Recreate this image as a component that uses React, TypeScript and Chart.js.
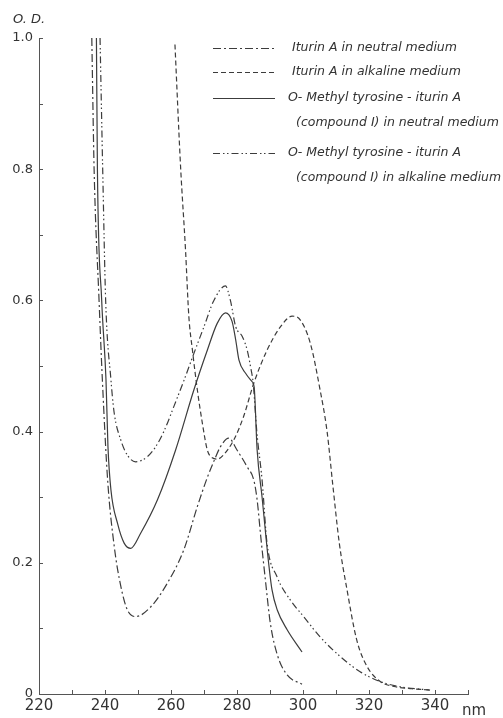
import React, { useEffect, useRef } from "react";
import { Chart, registerables } from "chart.js";
Chart.register(...registerables);

// Iturin A in neutral medium (dash-dot)
const nmItNeutral = [236.0, 236.7, 238.2, 239.2, 240.8, 242.8, 244.8, 246.8, 249.3, 253.9, 258.9, 263.9, 268.0, 271.0, 273.0, 275.0, 277.5, 280.0, 283.1, 285.1, 286.1, 287.2, 288.6, 290.1, 292.2, 295.2, 299.7];
const odItNeutral = [1.0, 0.8, 0.6, 0.479, 0.326, 0.225, 0.164, 0.128, 0.118, 0.133, 0.169, 0.22, 0.286, 0.33, 0.355, 0.377, 0.39, 0.372, 0.346, 0.326, 0.296, 0.24, 0.174, 0.108, 0.06, 0.029, 0.015];

// Iturin A in alkaline medium (dashed)
const nmItAlk = [261.2, 262.9, 264.4, 265.4, 266.5, 268.0, 269.5, 271.0, 272.5, 274.0, 276.0, 279.0, 282.0, 285.1, 289.1, 293.2, 296.7, 299.2, 302.2, 305.2, 307.3, 309.0, 311.0, 313.3, 316.3, 319.4, 323.4, 328.0, 333.0, 338.5];
const odItAlk = [0.99, 0.804, 0.677, 0.576, 0.524, 0.463, 0.413, 0.372, 0.36, 0.358, 0.365, 0.387, 0.423, 0.474, 0.524, 0.56, 0.576, 0.57, 0.535, 0.463, 0.4, 0.32, 0.23, 0.16, 0.082, 0.042, 0.019, 0.011, 0.008, 0.006];

// O-Methyl tyrosine-iturin A (compound I) in neutral medium (solid)
const nmCmpNeutral = [237.4, 237.7, 239.0, 240.3, 240.9, 241.8, 243.8, 245.8, 247.8, 250.8, 255.9, 261.4, 266.9, 271.0, 274.0, 276.5, 278.5, 279.6, 280.6, 282.6, 284.6, 285.2, 286.1, 287.6, 289.6, 290.6, 292.2, 295.2, 299.7];
const odCmpNeutral = [1.0, 0.8, 0.6, 0.479, 0.377, 0.311, 0.26, 0.23, 0.222, 0.245, 0.296, 0.372, 0.463, 0.524, 0.565, 0.581, 0.568, 0.54, 0.509, 0.489, 0.476, 0.468, 0.372, 0.3, 0.199, 0.159, 0.128, 0.098, 0.064];

// O-Methyl tyrosine-iturin A (compound I) in alkaline medium (dash-dot-dot)
const nmCmpAlk = [238.5, 239.3, 240.2, 241.8, 242.8, 244.8, 246.8, 249.3, 252.9, 255.5, 258.0, 261.0, 264.0, 267.0, 270.0, 273.0, 276.5, 278.0, 279.6, 281.6, 283.1, 284.1, 284.9, 286.0, 287.6, 289.1, 292.1, 296.2, 300.2, 305.2, 311.3, 317.3, 323.4, 329.4, 338.5];
const odCmpAlk = [1.0, 0.8, 0.6, 0.479, 0.428, 0.387, 0.364, 0.354, 0.362, 0.378, 0.402, 0.44, 0.479, 0.52, 0.56, 0.6, 0.622, 0.6, 0.56, 0.545, 0.524, 0.499, 0.474, 0.4, 0.326, 0.23, 0.179, 0.143, 0.118, 0.087, 0.057, 0.034, 0.019, 0.011, 0.006];

const legendLabels = [
  ["Iturin A in neutral medium"],
  ["Iturin A in alkaline medium"],
  ["O- Methyl tyrosine - iturin A", "(compound I) in neutral medium"],
  ["O- Methyl tyrosine - iturin A", "(compound I) in alkaline medium"],
];
const yAxisTitle = "O. D.";
const xUnit = "nm";

const DASH_DOT = [8, 3, 2, 3];
const DASHED = [5, 3];
const SOLID: number[] = [];
const DASH_DOT_DOT = [7, 3, 1.5, 2.5, 1.5, 3];
const LINE_COLOR = "#3c3c3c";

const toPts = (xs: number[], ys: number[]) => xs.map((x, i) => ({ x, y: ys[i] }));

export default function App() {
  const ref = useRef<HTMLCanvasElement>(null);
  useEffect(() => {
    const dashes = [DASH_DOT, DASHED, SOLID, DASH_DOT_DOT];
    const decor = {
      id: "decor",
      afterDraw(chart: any) {
        const { ctx, chartArea, scales } = chart;
        const x = scales.x;
        const y = scales.y;
        ctx.save();
        // inward ticks
        ctx.strokeStyle = "#555";
        ctx.lineWidth = 1;
        ctx.setLineDash([]);
        ctx.beginPath();
        x.ticks.forEach((t: any) => {
          if (t.value <= 220) return;
          const px = Math.round(x.getPixelForValue(t.value)) + 0.5;
          ctx.moveTo(px, chartArea.bottom);
          ctx.lineTo(px, chartArea.bottom - 4);
        });
        y.ticks.forEach((t: any) => {
          if (t.value <= 0) return;
          const py = Math.round(y.getPixelForValue(t.value)) + 0.5;
          ctx.moveTo(chartArea.left, py);
          ctx.lineTo(chartArea.left + 4, py);
        });
        ctx.stroke();
        // axis titles
        ctx.fillStyle = "#333";
        ctx.font = 'italic 13px "DejaVu Sans"';
        ctx.textBaseline = "middle";
        ctx.textAlign = "left";
        ctx.fillText(yAxisTitle, 13, 20);
        ctx.font = '15px "DejaVu Sans"';
        ctx.fillText(xUnit, 462, 711);
        // legend
        const rowY = [48, 72, 98, 153];
        ctx.font = 'italic 12.5px "DejaVu Sans"';
        legendLabels.forEach((lines, i) => {
          const yy = rowY[i];
          ctx.strokeStyle = LINE_COLOR;
          ctx.lineWidth = 1;
          ctx.setLineDash(dashes[i]);
          ctx.beginPath();
          ctx.moveTo(213, yy + 0.5);
          ctx.lineTo(275, yy + 0.5);
          ctx.stroke();
          ctx.setLineDash([]);
          lines.forEach((txt, j) => {
            const tx = j === 0 ? (i >= 2 ? 288 : 292) : 296;
            ctx.fillText(txt, tx, yy + j * 25, 205);
          });
        });
        ctx.restore();
      },
    };
    const mk = (label: string, data: any[], dash: number[]) => ({
      label,
      data,
      borderColor: LINE_COLOR,
      borderWidth: 1.2,
      borderDash: dash,
      pointRadius: 0,
      fill: false,
      cubicInterpolationMode: "monotone" as const,
    });
    const chart = new Chart(ref.current!, {
      type: "line",
      data: {
        datasets: [
          mk("Iturin A in neutral medium", toPts(nmItNeutral, odItNeutral), DASH_DOT),
          mk("Iturin A in alkaline medium", toPts(nmItAlk, odItAlk), DASHED),
          mk("O-Methyl tyrosine-iturin A (compound I) in neutral medium", toPts(nmCmpNeutral, odCmpNeutral), SOLID),
          mk("O-Methyl tyrosine-iturin A (compound I) in alkaline medium", toPts(nmCmpAlk, odCmpAlk), DASH_DOT_DOT),
        ],
      },
      options: {
        responsive: false,
        animation: false,
        layout: { padding: { top: 38, right: 35, left: 0, bottom: 0 } },
        plugins: { legend: { display: false }, tooltip: { enabled: false } },
        scales: {
          x: {
            type: "linear",
            min: 220,
            max: 350,
            afterFit: (s: any) => { s.height = 24; },
            border: { display: true, color: "#555", width: 1 },
            grid: { display: true, drawOnChartArea: false, drawTicks: false, color: "transparent" },
            ticks: {
              stepSize: 10,
              autoSkip: false,
              maxRotation: 0,
              padding: 3,
              color: "#333",
              font: { family: "DejaVu Sans", size: 15 },
              callback: (v: any) => (v % 20 === 0 && v <= 340 ? String(v) : ""),
            },
          },
          y: {
            type: "linear",
            min: 0,
            max: 1,
            afterFit: (s: any) => { s.width = 39; },
            border: { display: true, color: "#555", width: 1 },
            grid: { display: true, drawOnChartArea: false, drawTicks: false, color: "transparent" },
            ticks: {
              stepSize: 0.1,
              autoSkip: false,
              padding: 6,
              color: "#333",
              font: { family: "DejaVu Sans", size: 13 },
              callback: (v: any) => {
                const k = Math.round(v * 10);
                if (k % 2 !== 0) return "";
                return k === 0 ? "0" : (k / 10).toFixed(1);
              },
            },
          },
        },
      },
      plugins: [decor],
    });
    return () => chart.destroy();
  }, []);
  return (
    <div style={{ position: "fixed", left: 0, top: 0, width: 503, height: 718, background: "#fff" }}>
      <canvas ref={ref} width={503} height={718} style={{ display: "block", width: 503, height: 718 }} />
    </div>
  );
}
